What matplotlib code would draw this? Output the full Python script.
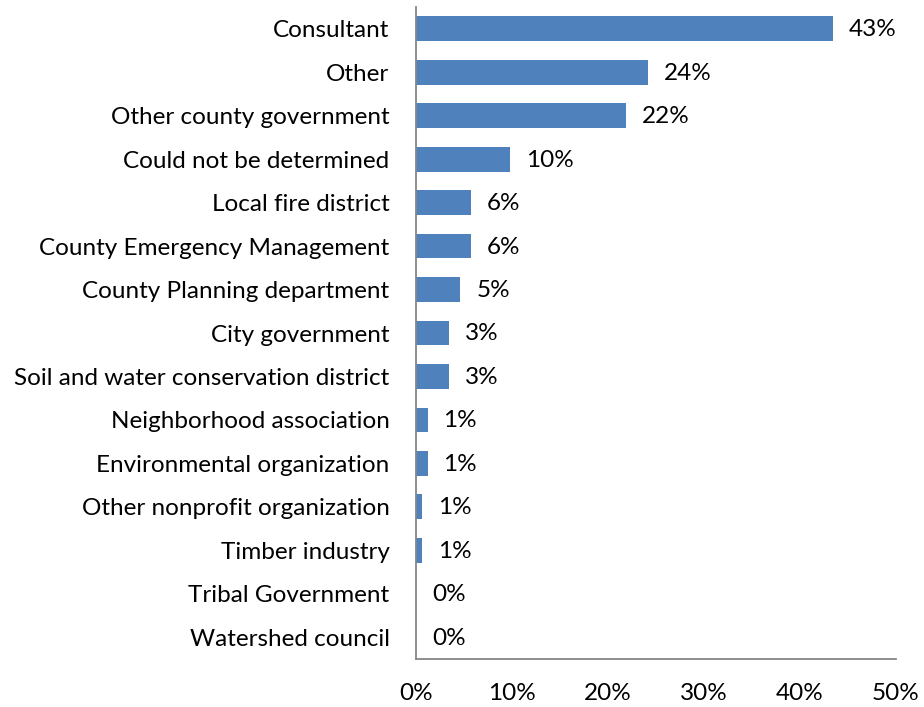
import matplotlib
matplotlib.use("Agg")
import matplotlib.pyplot as plt
from matplotlib.ticker import FuncFormatter

categories = [
    "Consultant", "Other", "Other county government", "Could not be determined",
    "Local fire district", "County Emergency Management", "County Planning department",
    "City government", "Soil and water conservation district", "Neighborhood association",
    "Environmental organization", "Other nonprofit organization", "Timber industry",
    "Tribal Government", "Watershed council",
]
values = [43.4, 24.2, 21.9, 9.8, 5.7, 5.7, 4.6, 3.4, 3.4, 1.2, 1.2, 0.6, 0.6, 0.0, 0.0]
xticks = [0, 10, 20, 30, 40, 50]

plt.rcParams['font.family'] = ['Lato', 'DejaVu Sans']
FS = 17.5

fig = plt.figure(figsize=(9.24, 7.07), dpi=100)
ax = fig.add_axes([416/924, 1-659/707, 480/924, 652/707])

y = list(range(len(categories)))
ax.barh(y, values, height=0.57, color="#4F81BD")
ax.set_ylim(len(categories)-0.5, -0.5)
ax.set_xlim(0, 50)
ax.set_yticks(y)
ax.set_yticklabels(categories, fontsize=FS)
ax.set_xticks(xticks)
ax.xaxis.set_major_formatter(FuncFormatter(lambda v, p: f"{v:.0f}%"))
ax.tick_params(axis='x', labelsize=FS, length=0, pad=17)
ax.tick_params(axis='y', length=0, pad=19)

for yi, v in zip(y, values):
    ax.annotate(f"{v:.0f}%", xy=(v, yi), xytext=(16, -1), textcoords="offset pixels",
                va="center", ha="left", fontsize=FS)

for s in ["top", "right"]:
    ax.spines[s].set_visible(False)
for s in ["left", "bottom"]:
    ax.spines[s].set_color("#868686")
    ax.spines[s].set_linewidth(1.3)

fig.savefig("out.png", dpi=100)
